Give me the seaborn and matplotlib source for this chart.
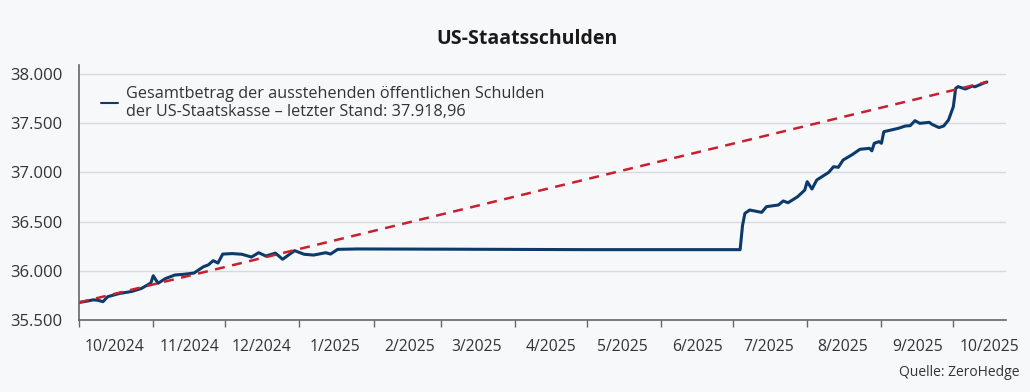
import matplotlib.pyplot as plt
import matplotlib.ticker as mticker
import pandas as pd
import seaborn as sns

# Debt series (billion USD)
dates = ['2024-10-01', '2024-10-04', '2024-10-07', '2024-10-09', '2024-10-11', '2024-10-13',
         '2024-10-18', '2024-10-23', '2024-10-27', '2024-10-31', '2024-11-01', '2024-11-03',
         '2024-11-06', '2024-11-10', '2024-11-14', '2024-11-18', '2024-11-22', '2024-11-24',
         '2024-11-26', '2024-11-28', '2024-11-30', '2024-12-04', '2024-12-08', '2024-12-12',
         '2024-12-15', '2024-12-18', '2024-12-22', '2024-12-25', '2024-12-30', '2025-01-03',
         '2025-01-07', '2025-01-12', '2025-01-14', '2025-01-17', '2025-01-25', '2025-03-01',
         '2025-05-01', '2025-07-04', '2025-07-05', '2025-07-06', '2025-07-08', '2025-07-13',
         '2025-07-15', '2025-07-20', '2025-07-22', '2025-07-24', '2025-07-28', '2025-07-31',
         '2025-08-01', '2025-08-03', '2025-08-05', '2025-08-10', '2025-08-12', '2025-08-14',
         '2025-08-16', '2025-08-20', '2025-08-23', '2025-08-27', '2025-08-28', '2025-08-29',
         '2025-08-31', '2025-09-01', '2025-09-02', '2025-09-08', '2025-09-11', '2025-09-13',
         '2025-09-15', '2025-09-17', '2025-09-21', '2025-09-22', '2025-09-25', '2025-09-27',
         '2025-09-29', '2025-10-01', '2025-10-02', '2025-10-03', '2025-10-06', '2025-10-09',
         '2025-10-10', '2025-10-14', '2025-10-15']
values = [35678, 35690, 35705, 35700, 35686, 35737,
          35770, 35790, 35820, 35876, 35950, 35873,
          35920, 35957, 35965, 35977, 36042, 36060,
          36103, 36079, 36170, 36175, 36168, 36140,
          36184, 36150, 36180, 36117, 36205, 36168,
          36160, 36184, 36170, 36218, 36222, 36220,
          36215, 36215, 36460, 36584, 36618, 36594,
          36652, 36669, 36710, 36692, 36753, 36821,
          36906, 36831, 36923, 37001, 37058, 37052,
          37126, 37184, 37235, 37245, 37220, 37296,
          37313, 37296, 37414, 37448, 37472, 37475,
          37526, 37499, 37509, 37490, 37456, 37472,
          37533, 37667, 37855, 37872, 37848, 37878,
          37870, 37911, 37919]

trend_dates = ['2024-10-01', '2025-10-15']
trend_values = [35678, 37919]

month_labels = ['10/2024', '11/2024', '12/2024', '1/2025', '2/2025', '3/2025', '4/2025',
                '5/2025', '6/2025', '7/2025', '8/2025', '9/2025', '10/2025']

legend_label = ('Gesamtbetrag der ausstehenden öffentlichen Schulden\n'
                'der US-Staatskasse – letzter Stand: 37.918,96')

df = pd.DataFrame({'date': pd.to_datetime(dates), 'value': values})
df_trend = pd.DataFrame({'date': pd.to_datetime(trend_dates), 'value': trend_values})

sns.set_theme(style='white')
plt.rcParams['font.family'] = ['Open Sans', 'DejaVu Sans']

bg = '#f7f8fa'
fig = plt.figure(figsize=(10.3, 3.92), dpi=100, facecolor=bg)
ax = fig.add_axes([0.0767, 0.1837, 0.9, 0.65], facecolor=bg)

ax.yaxis.grid(True, color='#d8d9dc', linewidth=1)
ax.set_axisbelow(True)

sns.lineplot(data=df, x='date', y='value', ax=ax, color='#0b3a6b', linewidth=2.2,
             label=legend_label)
sns.lineplot(data=df_trend, x='date', y='value', ax=ax, color='#c8202f', linewidth=1.8,
             dashes=False, linestyle=(0, (4, 3)), legend=False)

ax.set_ylim(35500, 38090)
ax.set_xlim(pd.Timestamp('2024-10-01'), pd.Timestamp('2025-10-23'))
ax.set_yticks([35500, 36000, 36500, 37000, 37500, 38000])
ax.yaxis.set_major_formatter(mticker.FuncFormatter(lambda v, p: f'{v:,.0f}'.replace(',', '.')))

month_starts = pd.date_range('2024-10-01', '2025-10-01', freq='MS')
mid_months = month_starts + pd.Timedelta(days=15)
ax.set_xticks(month_starts)
ax.set_xticklabels([])
ax.set_xticks(mid_months, minor=True)
ax.set_xticklabels(month_labels, minor=True)
ax.tick_params(axis='x', which='major', length=5, width=1, color='#666666', direction='out')
ax.tick_params(axis='x', which='minor', length=0, pad=14, labelsize=11.3, labelcolor='#333333')
ax.tick_params(axis='y', length=0, labelsize=12, labelcolor='#333333', pad=12)
ax.tick_params(bottom=True, left=False)

for side in ['top', 'right']:
    ax.spines[side].set_visible(False)
for side in ['left', 'bottom']:
    ax.spines[side].set_color('#666666')
    ax.spines[side].set_linewidth(1.2)

ax.set_xlabel('')
ax.set_ylabel('')

leg = ax.legend(loc='upper left', bbox_to_anchor=(0.0075, 0.975), frameon=False, fontsize=11.7,
                handlelength=1.05, handletextpad=0.5, labelcolor='#333333')
for line in leg.get_lines():
    line.set_linewidth(1.5)
for t in leg.get_texts():
    t.set_linespacing(1.12)

fig.text(0.512, 0.9, 'US-Staatsschulden', ha='center', va='center', fontsize=14,
         fontweight='bold', color='#1a1a1a')
fig.text(0.99, 0.05, 'Quelle: ZeroHedge', ha='right', va='center', fontsize=10,
         color='#333333')

fig.savefig('out.png', dpi=100, facecolor=bg)
